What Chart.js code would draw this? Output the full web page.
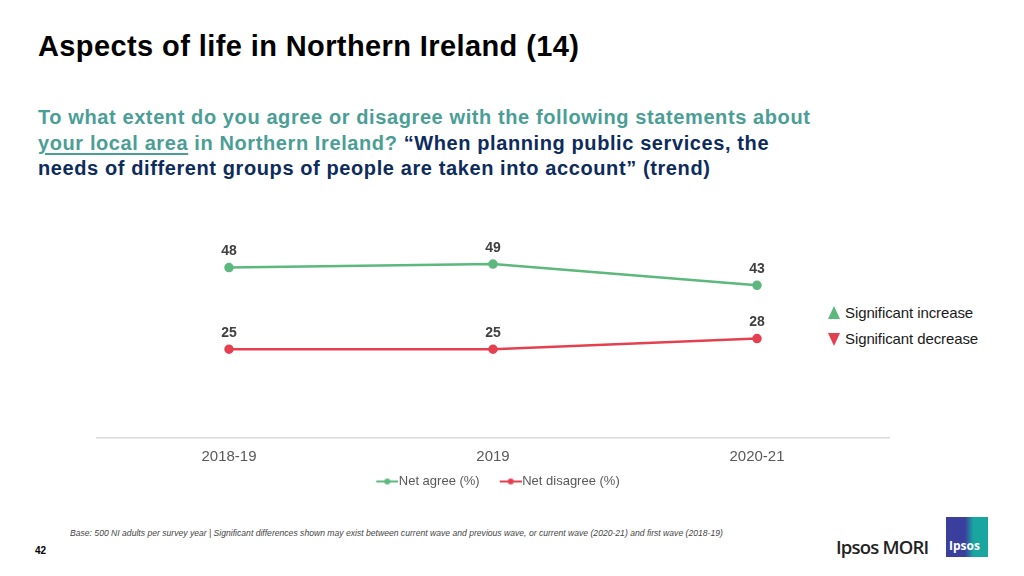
<!DOCTYPE html>
<html>
<head>
<meta charset="utf-8">
<script src="https://cdn.jsdelivr.net/npm/chart.js@4"></script>
<style>
  html, body { margin: 0; padding: 0; background: #fff; }
  body { width: 1024px; height: 576px; position: relative; overflow: hidden; font-family: "Liberation Sans", Arial, sans-serif; }
  .title { position: absolute; left: 38px; top: 30px; font-size: 29px; font-weight: bold; color: #000; white-space: nowrap; letter-spacing: 0.4px; }
  .question { position: absolute; left: 38px; top: 105px; font-size: 20px; font-weight: bold; line-height: 25.5px; color: #4a9e96; letter-spacing: 0.6px; white-space: nowrap; }
  .question u { text-decoration-thickness: 2px; text-underline-offset: 3px; }
  .question .quote { color: #0d2b5c; }
  .sig { position: absolute; left: 845px; font-size: 15px; color: #1a1a1a; white-space: nowrap; letter-spacing: -0.1px; }
  .tri { position: absolute; left: 828px; width: 0; height: 0; border-left: 6px solid transparent; border-right: 6px solid transparent; }
  .tri.up { top: 306px; border-bottom: 13px solid #5cb87c; }
  .tri.down { top: 333px; border-top: 13px solid #e5404f; }
  .base { position: absolute; left: 70px; top: 528px; font-size: 8.6px; font-style: italic; color: #444; white-space: nowrap; }
  .page { position: absolute; left: 35px; top: 545px; font-size: 10px; font-weight: bold; color: #000; }
  .mori { position: absolute; left: 836px; top: 534px; font-size: 18.5px; font-weight: 600; color: #222; letter-spacing: -0.8px; font-family: "Open Sans", sans-serif; }
  .logo { position: absolute; left: 946px; top: 517px; width: 42px; height: 40px; background: linear-gradient(90deg, #3a3f9e 0%, #3a3f9e 45%, #19a5a0 65%, #19a5a0 100%); }
  .logo span { position: absolute; left: 3px; top: 20px; font-size: 12px; font-weight: bold; color: #fff; font-family: "Open Sans", sans-serif; }
  #wrap { position: absolute; left: 0; top: 200px; width: 1024px; height: 311px; }
</style>
</head>
<body>
<div class="title">Aspects of life in Northern Ireland (14)</div>
<div class="question">To what extent do you agree or disagree with the following statements about<br><u>your local area</u> in Northern Ireland? <span class="quote">“When planning public services, the</span><br><span class="quote">needs of different groups of people are taken into account” (trend)</span></div>

<div class="tri up"></div>
<div class="sig" style="top:304px">Significant increase</div>
<div class="tri down"></div>
<div class="sig" style="top:330px">Significant decrease</div>

<div id="wrap"><canvas id="trendChart"></canvas></div>

<div class="base">Base: 500 NI adults per survey year | Significant differences shown may exist between current wave and previous wave, or current wave (2020-21) and first wave (2018-19)</div>
<div class="page">42</div>
<div class="mori">Ipsos MORI</div>
<div class="logo"><span>Ipsos</span></div>

<script>
// 데이터
const waves = ["2018-19", "2019", "2020-21"];
const netAgree = [48, 49, 43];
const netDisagree = [25, 25, 28];

const GREEN = "#5cb87c";
const RED = "#e5404f";

// 범례 마커: 선 + 점 (왼쪽은 투명 여백)
function legendMarker(color) {
  const c = document.createElement("canvas");
  c.width = 38;
  c.height = 8;
  const ctx = c.getContext("2d");
  ctx.strokeStyle = color;
  ctx.lineWidth = 2;
  ctx.beginPath();
  ctx.moveTo(16, 4);
  ctx.lineTo(38, 4);
  ctx.stroke();
  ctx.fillStyle = color;
  ctx.beginPath();
  ctx.arc(27, 4, 3, 0, Math.PI * 2);
  ctx.fill();
  return c;
}

// 점 위에 값 표시
const valueLabels = {
  id: "valueLabels",
  afterDatasetsDraw(chart) {
    const ctx = chart.ctx;
    ctx.save();
    ctx.font = "bold 14px 'Liberation Sans', Arial, sans-serif";
    ctx.fillStyle = "#404040";
    ctx.textAlign = "center";
    ctx.textBaseline = "middle";
    chart.data.datasets.forEach((ds, i) => {
      chart.getDatasetMeta(i).data.forEach((pt, j) => {
        ctx.fillText(ds.data[j], pt.x, pt.y - 16);
      });
    });
    ctx.restore();
  },
};

new Chart(document.getElementById("trendChart"), {
  type: "line",
  data: {
    labels: waves,
    datasets: [
      {
        label: "Net agree (%)",
        data: netAgree,
        borderColor: GREEN,
        backgroundColor: GREEN,
        borderWidth: 2.5,
        pointRadius: 3.5,
        marker: legendMarker(GREEN),
      },
      {
        label: "Net disagree (%)",
        data: netDisagree,
        borderColor: RED,
        backgroundColor: RED,
        borderWidth: 2.5,
        pointRadius: 3.5,
        marker: legendMarker(RED),
      },
    ],
  },
  options: {
    responsive: true,
    maintainAspectRatio: false,
    animation: false,
    layout: { padding: { left: 97, right: 135, top: 25, bottom: 13 } },
    plugins: {
      tooltip: { enabled: false },
      legend: {
        position: "bottom",
        labels: {
          usePointStyle: true,
          pointStyleWidth: 26,
          padding: 10,
          color: "#595959",
          font: { size: 13, family: "'Liberation Sans', Arial, sans-serif" },
          generateLabels(chart) {
            return chart.data.datasets.map((ds, i) => ({
              text: ds.label,
              fillStyle: ds.borderColor,
              strokeStyle: ds.borderColor,
              fontColor: "#595959",
              pointStyle: ds.marker,
              lineWidth: 0,
              hidden: false,
              datasetIndex: i,
            }));
          },
        },
      },
    },
    scales: {
      x: {
        offset: true,
        grid: { display: false, drawTicks: false },
        border: { display: true, color: "#d9d9d9", width: 1.5 },
        ticks: {
          padding: 10,
          color: "#595959",
          font: { size: 15, family: "'Liberation Sans', Arial, sans-serif" },
        },
        // 범례를 축 라벨 쪽으로 당김
        afterFit(scale) {
          scale.height -= 11;
        },
      },
      y: {
        display: false,
        min: 0,
        max: 60,
      },
    },
  },
  plugins: [valueLabels],
});
</script>
</body>
</html>
